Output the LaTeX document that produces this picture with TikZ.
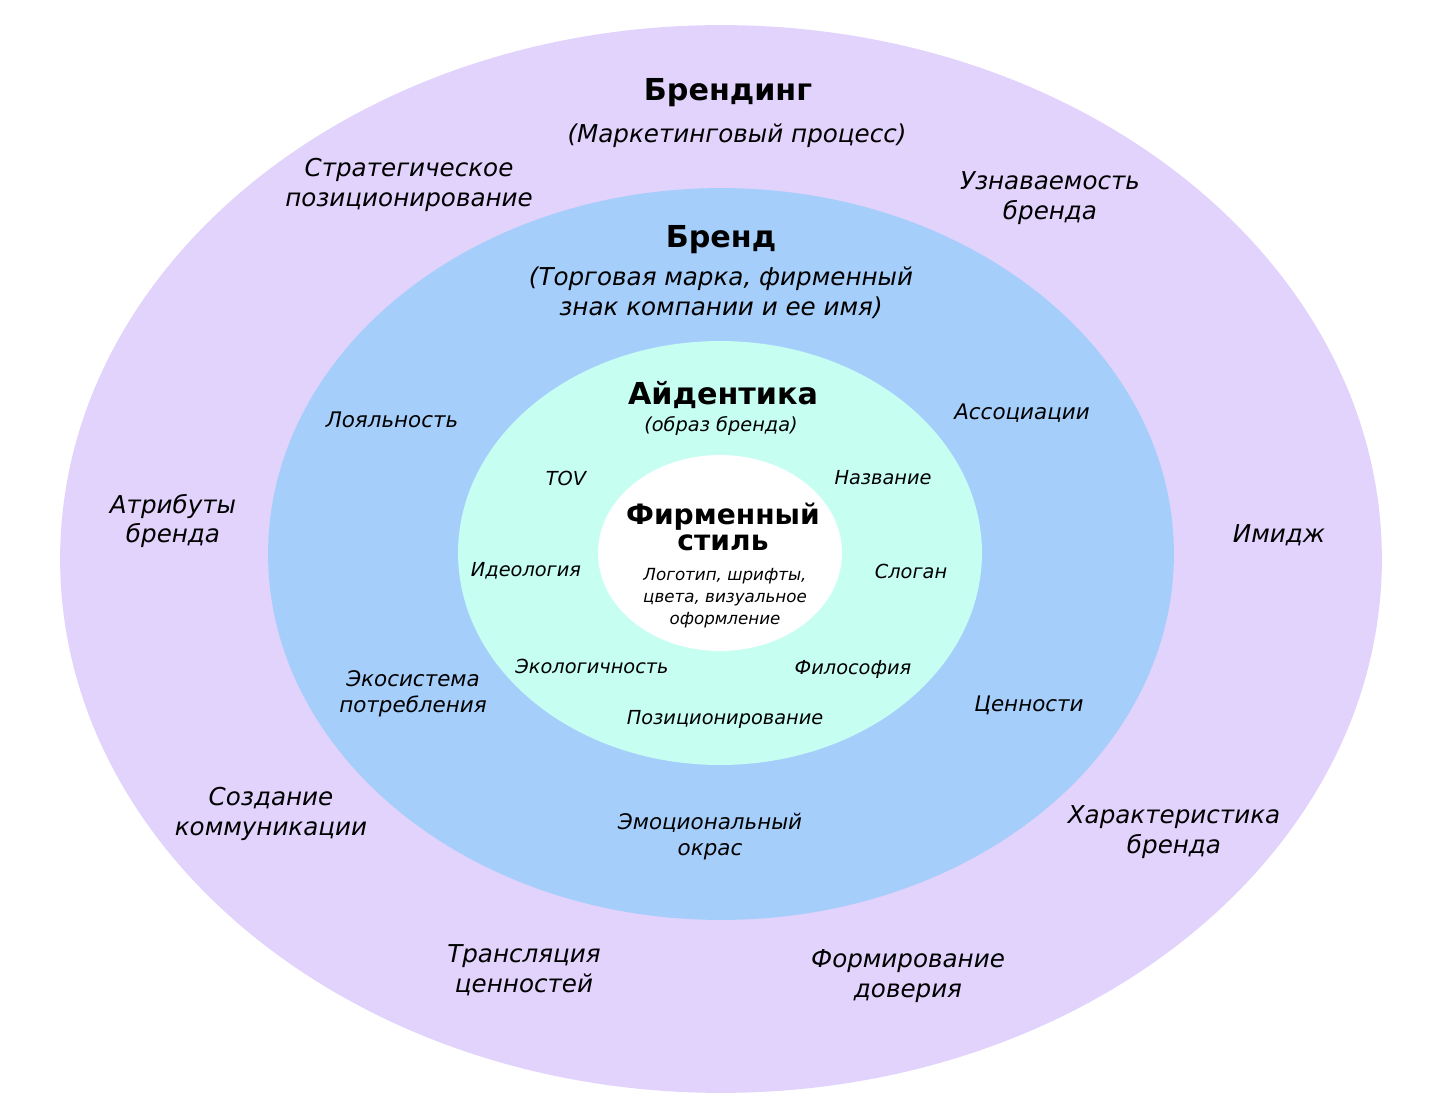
\documentclass[tikz,border=0pt]{standalone}
\usepackage{fontspec}
\setmainfont{DejaVu Sans}
\usetikzlibrary{positioning}
\definecolor{lavender}{HTML}{E1D3FC}
\definecolor{skyblue}{HTML}{A6CEFB}
\definecolor{mint}{HTML}{C6FEF2}
\tikzset{
	every node/.style = {align=center, inner sep=0pt, yshift=-1.7pt},
	head/.style = {font=\bfseries\fontsize{17.2}{19}\selectfont},
	outer/.style = {font=\itshape\fontsize{14}{17}\selectfont},
	middle/.style = {font=\itshape\fontsize{12.2}{14.7}\selectfont},
	inner/.style = {font=\itshape\fontsize{11}{12}\selectfont},
	core/.style = {font=\itshape\fontsize{9.5}{12.5}\selectfont}
}

\begin{document}
\begin{tikzpicture}[x=0.02cm, y=-0.02cm]
	\useasboundingbox (0,0) rectangle (1441,1099);
	\coordinate (o) at (721,556);
	\fill[lavender] (o) ellipse [x radius=13.22cm, y radius=10.68cm];
	\fill[skyblue] (721,554) ellipse [x radius=9.06cm, y radius=7.32cm];
	\fill[mint] (720,553) ellipse [x radius=5.24cm, y radius=4.24cm];
	\fill[white] (720,553) ellipse [x radius=2.44cm, y radius=1.96cm];
	% outer ring
	\node[head] (branding) at (728,90) {Брендинг};
	\node[outer] (process) at (737,133) {(Маркетинговый процесс)};
	\node[outer] (strat) at (409,182) {Стратегическое\\позиционирование};
	\node[outer] (recog) at (1050,195) {Узнаваемость\\бренда};
	\node[outer] (attr) at (173,518) {Атрибуты\\бренда};
	\node[outer] (image) at (1279,532) {Имидж};
	\node[outer] (comm) at (271,811) {Создание\\коммуникации};
	\node[outer] (char) at (1174,829) {Характеристика\\бренда};
	\node[outer] (transl) at (524,967) {Трансляция\\ценностей};
	\node[outer] (trust) at (908,973) {Формирование\\доверия};
	% brand ring
	\node[head] (brand) at (721,237) {Бренд};
	\node[outer] (mark) at (721,290) {(Торговая марка, фирменный\\знак компании и ее имя)};
	\node[middle] (loyal) at (392,417) {Лояльность};
	\node[middle] (assoc) at (1022,410) {Ассоциации};
	\node[middle] (eco) at (413,691) {Экосистема\\потребления};
	\node[middle] (values) at (1029,702) {Ценности};
	\node[middle] (emo) at (710,834) {Эмоциональный\\окрас};
	% identity ring
	\node[head] (ident) at (723,392) {Айдентика};
	\node[inner] (imagebr) at (721,423) {(образ бренда)};
	\node[inner] (tov) at (566,475) {TOV};
	\node[inner] (name) at (883,475) {Название};
	\node[inner] (ideo) at (526,568) {Идеология};
	\node[inner] (slogan) at (911,568) {Слоган};
	\node[inner] (ecol) at (592,663) {Экологичность};
	\node[inner] (philo) at (853,666) {Философия};
	\node[inner] (pos) at (725,716) {Позиционирование};
	% corporate style
	\node[head, font=\bfseries\fontsize{16}{15}\selectfont] (style) at (723,524) {Фирменный\\стиль};
	\node[core] (logo) at (725,595) {Логотип, шрифты,\\цвета, визуальное\\оформление};
\end{tikzpicture}
\end{document}
